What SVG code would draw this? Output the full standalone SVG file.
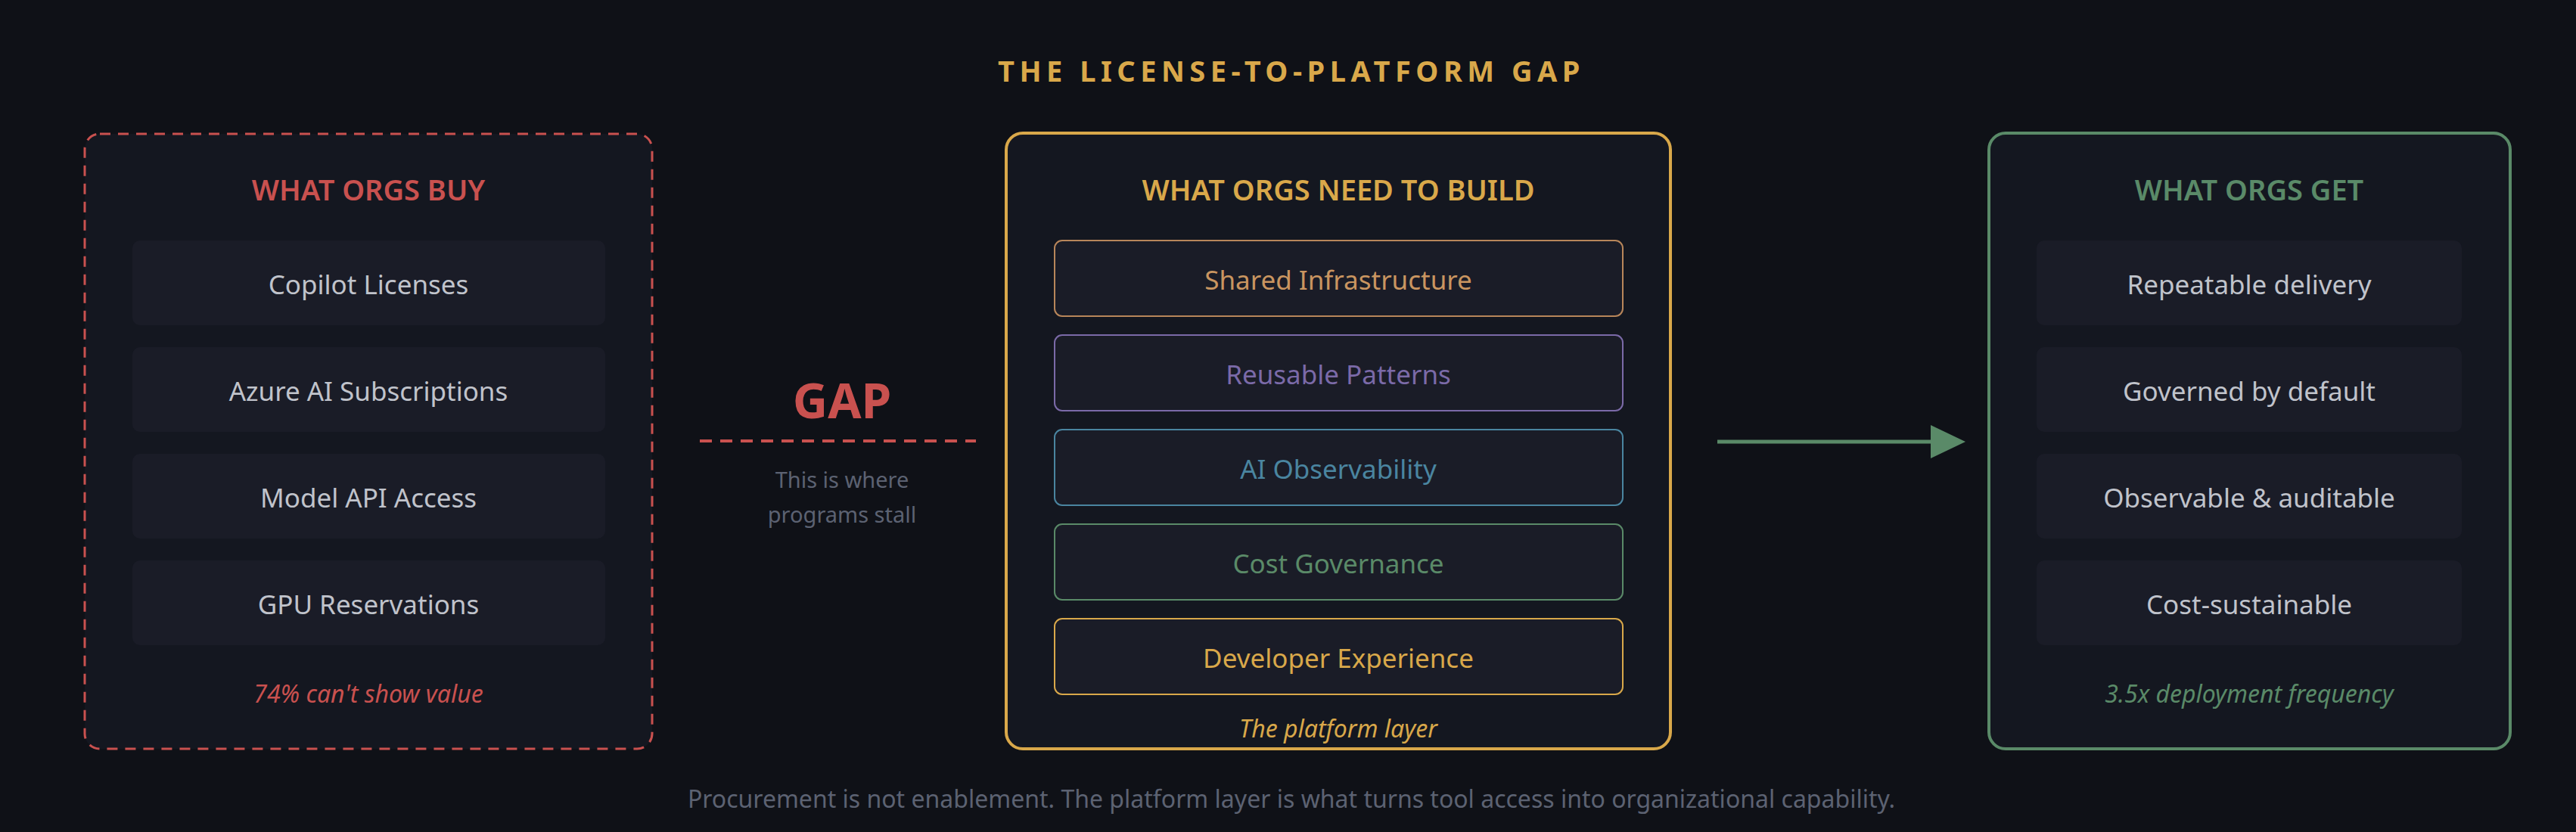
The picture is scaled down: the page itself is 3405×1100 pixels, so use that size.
<svg xmlns="http://www.w3.org/2000/svg" width="3405" height="1100" viewBox="0 0 3405 1100">
<style>
text{font-family:"Noto Sans","Open Sans","Liberation Sans",sans-serif;text-anchor:middle}
.item{fill:#1a1c27}
.it{fill:#c0c3cb;font-size:35px}
.hd{font-size:38px;font-weight:600}
.ft{font-size:32px;font-style:italic}
.mi{fill:#1a1c27;stroke-width:2}
</style>
<defs><marker id="ah" markerWidth="46" markerHeight="44" refX="0" refY="22" orient="auto" markerUnits="userSpaceOnUse"><path d="M0,0 L46,22 L0,44 Z" fill="#5a8a68"/></marker></defs>
<rect width="3405" height="1100" fill="#0f1117"/>
<text x="1707" y="108" font-size="38" font-weight="bold" fill="#d9a84a" letter-spacing="6.5">THE LICENSE-TO-PLATFORM GAP</text>
<g id="buy">
<rect x="112" y="177" width="750" height="813" rx="20" fill="#141720" stroke="#c9514f" stroke-width="3" stroke-dasharray="14,10"/>
<text class="hd" x="487" y="265" fill="#c9514f">WHAT ORGS BUY</text>
<rect class="item" x="175" y="318" width="625" height="112" rx="10"/><text class="it" x="487" y="389">Copilot Licenses</text>
<rect class="item" x="175" y="459" width="625" height="112" rx="10"/><text class="it" x="487" y="530">Azure AI Subscriptions</text>
<rect class="item" x="175" y="600" width="625" height="112" rx="10"/><text class="it" x="487" y="671">Model API Access</text>
<rect class="item" x="175" y="741" width="625" height="112" rx="10"/><text class="it" x="487" y="812">GPU Reservations</text>
<text class="ft" x="487" y="929" fill="#c9514f">74% can't show value</text>
</g>
<g id="gap">
<text x="1113" y="553" font-size="64" font-weight="bold" fill="#c9514f">GAP</text>
<text x="1113" y="645" font-size="29" fill="#5c6272">This is where</text>
<text x="1113" y="691" font-size="29" fill="#5c6272">programs stall</text>
</g>
<g id="build">
<rect x="1330" y="176" width="878" height="814" rx="22" fill="#141720" stroke="#d9a84a" stroke-width="4"/>
<text class="hd" x="1769" y="265" fill="#d9a84a">WHAT ORGS NEED TO BUILD</text>
<rect class="mi" x="1394" y="318" width="751" height="100" rx="10" stroke="#b8865a"/><text class="it" x="1769" y="383" style="fill:#c99560">Shared Infrastructure</text>
<rect class="mi" x="1394" y="443" width="751" height="100" rx="10" stroke="#7b6aa8"/><text class="it" x="1769" y="508" style="fill:#7b6aa8">Reusable Patterns</text>
<rect class="mi" x="1394" y="568" width="751" height="100" rx="10" stroke="#4a85a0"/><text class="it" x="1769" y="633" style="fill:#4a85a0">AI Observability</text>
<rect class="mi" x="1394" y="693" width="751" height="100" rx="10" stroke="#5a8a68"/><text class="it" x="1769" y="758" style="fill:#5a8a68">Cost Governance</text>
<rect class="mi" x="1394" y="818" width="751" height="100" rx="10" stroke="#d9a84a"/><text class="it" x="1769" y="883" style="fill:#d9a84a">Developer Experience</text>
<text class="ft" x="1769" y="975" fill="#d9a84a">The platform layer</text>
</g>
<g id="get">
<rect x="2629" y="176" width="689" height="814" rx="22" fill="#141720" stroke="#5a8a68" stroke-width="4"/>
<text class="hd" x="2973" y="265" fill="#5a8a68">WHAT ORGS GET</text>
<rect class="item" x="2692" y="318" width="562" height="112" rx="10"/><text class="it" x="2973" y="389">Repeatable delivery</text>
<rect class="item" x="2692" y="459" width="562" height="112" rx="10"/><text class="it" x="2973" y="530">Governed by default</text>
<rect class="item" x="2692" y="600" width="562" height="112" rx="10"/><text class="it" x="2973" y="671">Observable &amp; auditable</text>
<rect class="item" x="2692" y="741" width="562" height="112" rx="10"/><text class="it" x="2973" y="812">Cost-sustainable</text>
<text class="ft" x="2973" y="929" fill="#5a8a68">3.5x deployment frequency</text>
</g>
<g id="connectors">
<line x1="925" y1="583" x2="1290" y2="583" stroke="#c9514f" stroke-width="4" stroke-dasharray="16,11"/>
<line x1="2270" y1="584" x2="2552" y2="584" stroke="#5a8a68" stroke-width="5" marker-end="url(#ah)"/>
</g>
<text x="1707" y="1068" font-size="32" fill="#5c6272">Procurement is not enablement. The platform layer is what turns tool access into organizational capability.</text>
</svg>
